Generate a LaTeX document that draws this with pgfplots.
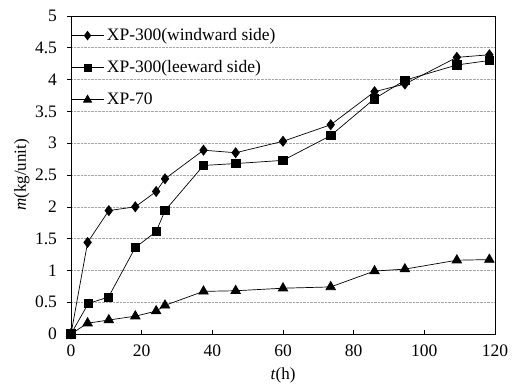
\documentclass[border=0pt]{standalone}
\usepackage{pgfplots}
\pgfplotsset{compat=1.18}
\usepackage{fontspec}
\setmainfont{Liberation Serif}
\begin{document}
\fontsize{17.5bp}{21bp}\selectfont
\begin{tikzpicture}
\path[use as bounding box] (0,0) rectangle (516bp,385bp);
\begin{axis}[
  at={(71bp,51bp)}, anchor=south west,
  width=424bp, height=318bp, scale only axis,
  xmin=0, xmax=120, ymin=0, ymax=5,
  xtick={0,20,...,120},
  ytick={0,0.5,...,5},
  yticklabels={0,0.5,1,1.5,2,2.5,3,3.5,4,4.5,5},
  tick pos=left,
  xtick align=inside, ytick align=outside,
  major tick length=4bp,
  ymajorgrids,
  grid style={gray!70, densely dotted, line width=0.6pt},
  axis line style={line width=0.8pt},
  tick style={black, line width=0.6pt},
  /pgf/number format/assume math mode=true,
  ticklabel style={font=\fontsize{17.5bp}{21bp}\selectfont},
  xticklabel style={yshift=-5bp},
  yticklabel style={xshift=-4bp},
  label style={font=\fontsize{17bp}{21bp}\selectfont},
  xlabel={\textit{t}(h)},
  ylabel={\textit{m}(kg/unit)},
  xlabel style={at={(axis description cs:0.5,0)}, anchor=center, yshift=-41bp},
  ylabel style={at={(axis description cs:-0.116,0.5)}, anchor=center},
  legend style={at={(0,1)}, anchor=north west, draw=none, fill=none,
    font=\fontsize{17.5bp}{21bp}\selectfont, row sep=13.5bp,
    xshift=0bp, yshift=-10bp, inner sep=0pt,
    nodes={inner xsep=3bp}},
  legend cell align=left,
  legend image code/.code={\draw[mark repeat=2,mark phase=2,#1,every mark/.append style={scale=0.85}] plot coordinates {(0bp,0bp)(16bp,0bp)(32bp,0bp)};},
  every axis plot/.append style={black, line width=0.7pt, mark options={solid, fill=black}},
]
\addplot[mark=diamond*, mark size=5bp] coordinates {
(0,0) (4.7,1.44) (10.7,1.94) (18.2,2.00) (24.1,2.24) (26.6,2.44) (37.5,2.89) (46.6,2.85) (60.0,3.03) (73.5,3.29) (85.9,3.81) (94.5,3.93) (109.2,4.35) (118.4,4.39)};
\addlegendentry{XP-300(windward side)}
\addplot[mark=square*, mark size=4.2bp] coordinates {
(0,0) (4.9,0.48) (10.6,0.58) (18.2,1.36) (24.1,1.61) (26.6,1.94) (37.5,2.65) (46.6,2.68) (60.0,2.73) (73.5,3.12) (85.9,3.70) (94.5,3.99) (109.2,4.23) (118.4,4.30)};
\addlegendentry{XP-300(leeward side)}
\addplot[mark=triangle*, mark size=5.5bp] coordinates {
(0,0) (4.7,0.17) (10.7,0.22) (18.2,0.28) (24.1,0.36) (26.6,0.45) (37.5,0.67) (46.6,0.68) (60.0,0.72) (73.5,0.74) (85.9,0.99) (94.5,1.02) (109.2,1.16) (118.4,1.17)};
\addlegendentry{XP-70}
\end{axis}
\end{tikzpicture}
\end{document}
